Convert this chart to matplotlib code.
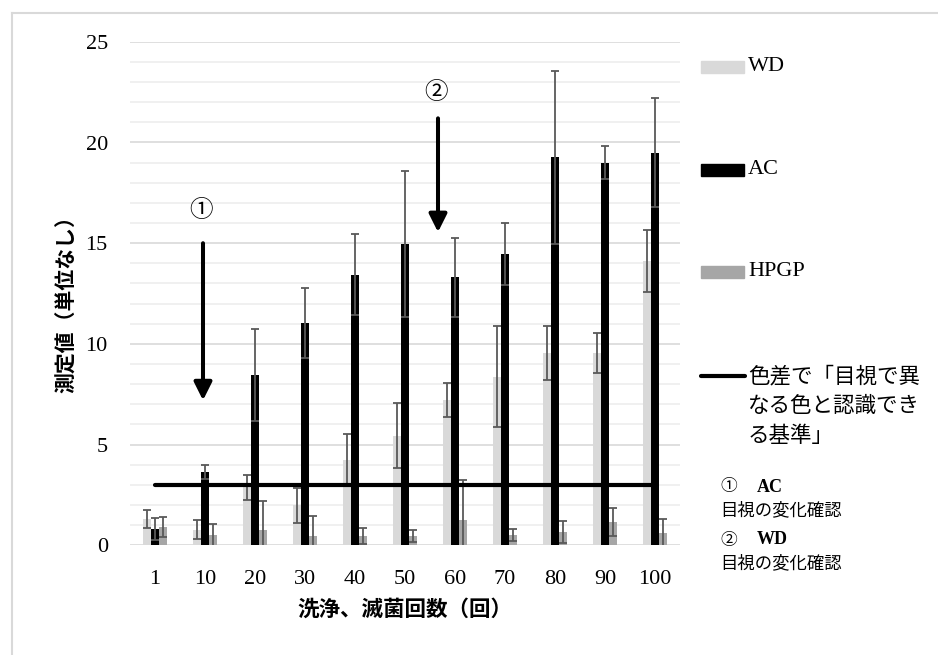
import matplotlib
matplotlib.use("Agg")
import matplotlib.pyplot as plt
from matplotlib.lines import Line2D
from matplotlib.patches import Rectangle
import numpy as np

# data
cycles = ["1", "10", "20", "30", "40", "50", "60", "70", "80", "90", "100"]
wd = [1.32, 0.78, 2.88, 1.98, 4.25, 5.44, 7.22, 8.38, 9.54, 9.54, 14.13]
wd_err = [0.45, 0.48, 0.62, 0.87, 1.30, 1.62, 0.83, 2.51, 1.34, 1.00, 1.55]
ac = [0.79, 3.64, 8.45, 11.06, 13.44, 14.95, 13.30, 14.46, 19.27, 19.00, 19.50]
ac_err = [0.55, 0.37, 2.27, 1.74, 2.02, 3.62, 1.94, 1.52, 4.29, 0.83, 2.70]
hpgp = [0.91, 0.50, 0.74, 0.48, 0.45, 0.45, 1.27, 0.50, 0.66, 1.16, 0.61]
hpgp_err = [0.48, 0.57, 1.44, 0.96, 0.41, 0.31, 1.95, 0.29, 0.55, 0.68, 0.69]
threshold = [3] * len(cycles)

series_names = ["WD", "AC", "HPGP"]
threshold_label = ["色差で「目視で異", "なる色と認識でき", "る基準」"]
xlabel = "洗浄、滅菌回数（回）"
ylabel = "測定値（単位なし）"

SERIF = ["Liberation Serif", "Noto Sans CJK JP"]
JP = ["Noto Sans CJK JP", "DejaVu Sans"]
colors = ["#d9d9d9", "#000000", "#a6a6a6"]
err_kw = dict(ecolor="#595959", elinewidth=1.3, capsize=3, capthick=1.3)

W, H = 938, 655
fig = plt.figure(figsize=(W / 100, H / 100), dpi=100)


def fx(px):
    return px / W


def fy(py):
    return 1 - py / H


ax = fig.add_axes([fx(130), fy(545.3), (680 - 130) / W, (545.3 - 41.8) / H])

x = np.arange(len(cycles))
bw = 0.165
ax.bar(x - bw, wd, bw, color=colors[0], yerr=wd_err, error_kw=err_kw, zorder=2)
ax.bar(x, ac, bw, color=colors[1], yerr=ac_err, error_kw=err_kw, zorder=2)
ax.bar(x + bw, hpgp, bw, color=colors[2], yerr=hpgp_err, error_kw=err_kw, zorder=2)

# threshold line
ax.plot(x, threshold, color="black", lw=3, solid_capstyle="round", zorder=4)

ax.set_xlim(-0.5, len(cycles) - 0.5)
ax.set_ylim(0, 25)
ax.set_xticks(x)
ax.set_xticklabels(cycles)
ax.set_yticks(np.arange(0, 26, 5))
ax.set_yticks(np.arange(0, 26, 1), minor=True)
ax.grid(axis="y", which="minor", color="#eeeeee", lw=1.2)
ax.grid(axis="y", which="major", color="#d9d9d9", lw=1.2)
ax.set_axisbelow(True)
for s in ax.spines.values():
    s.set_visible(False)
ax.tick_params(which="both", length=0)
ax.tick_params(axis="x", pad=18)
ax.tick_params(axis="y", pad=16)
for lab in ax.get_xticklabels() + ax.get_yticklabels():
    lab.set_fontfamily(SERIF)
    lab.set_fontsize(16)

ax.set_xlabel(xlabel, family=JP, fontsize=15.5, fontweight="bold")
ax.xaxis.set_label_coords(0.5, -0.107)
ax.set_ylabel(ylabel, family=JP, fontsize=15, fontweight="bold")
ax.yaxis.set_label_coords(-0.097, 0.49)

# arrows with circled numbers
arrow_kw = dict(arrowstyle="-|>,head_length=0.6,head_width=0.3", color="black",
                lw=2.9, mutation_scale=18, shrinkA=0, shrinkB=0)
ax.annotate("", xy=(0.96, 7.2), xytext=(0.96, 15.0), arrowprops=arrow_kw, zorder=5)
ax.annotate("", xy=(5.66, 15.55), xytext=(5.66, 21.2), arrowprops=arrow_kw, zorder=5)
ax.text(0.93, 16.6, "①", family=JP, fontsize=17, ha="center", va="center")
ax.text(5.63, 22.5, "②", family=JP, fontsize=17, ha="center", va="center")

# legend drawn by hand
for name, c, py in zip(series_names, colors, [66.7, 170, 272]):
    fig.add_artist(Rectangle((fx(701), fy(py + 6)), 43 / W, 12 / H,
                             transform=fig.transFigure, color=c))
    fig.text(fx(748), fy(py), name, family=SERIF, fontsize=16, va="center", ha="left")

fig.add_artist(Line2D([fx(701), fx(745)], [fy(376), fy(376)], color="black", lw=3,
                      solid_capstyle="round", transform=fig.transFigure))
for i, line in enumerate(threshold_label):
    fig.text(fx(748), fy(376 + 30 * i), line, family=JP, fontsize=15.5, va="center", ha="left")

# notes
fig.text(fx(720), fy(487), "①", family=JP, fontsize=12, va="center", ha="left")
fig.text(fx(757), fy(487), "AC", family=SERIF, fontsize=13, fontweight="bold", va="center", ha="left")
fig.text(fx(720), fy(510), "目視の変化確認", family=JP, fontsize=12.5, va="center", ha="left")
fig.text(fx(720), fy(540), "②", family=JP, fontsize=12, va="center", ha="left")
fig.text(fx(757), fy(540), "WD", family=SERIF, fontsize=13, fontweight="bold", va="center", ha="left")
fig.text(fx(720), fy(563), "目視の変化確認", family=JP, fontsize=12.5, va="center", ha="left")

# chart area border (top and left edges visible)
fig.add_artist(Line2D([fx(12), 1], [fy(13), fy(13)], color="#d9d9d9", lw=1.5,
                      transform=fig.transFigure))
fig.add_artist(Line2D([fx(12), fx(12)], [fy(13), 0], color="#d9d9d9", lw=1.5,
                      transform=fig.transFigure))

fig.savefig("out.png", dpi=100)
